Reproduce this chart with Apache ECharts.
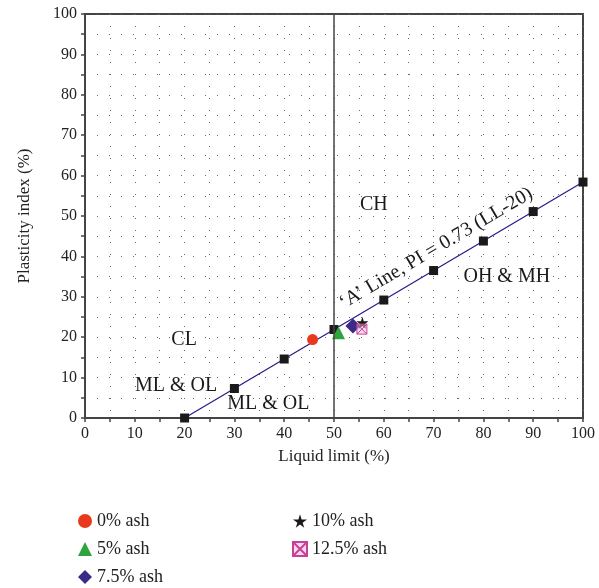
<!DOCTYPE html>
<html>
<head>
<meta charset="utf-8">
<script src="https://cdn.jsdelivr.net/npm/echarts@6/dist/echarts.min.js"></script>
<style>
  html, body { margin: 0; padding: 0; background: #fff; }
  #chart { width: 599px; height: 588px; }
</style>
</head>
<body>
<div id="chart"></div>
<script>
// A-line: PI = 0.73 (LL - 20)
const aLineLL = [20, 30, 40, 50, 60, 70, 80, 90, 100];
const aLinePI = [0, 7.3, 14.6, 21.9, 29.2, 36.5, 43.8, 51.1, 58.4];

// soil samples (LL, PI)
const sampleNames = ['0% ash', '5% ash', '7.5% ash', '10% ash', '12.5% ash'];
const sampleLL = [45.7, 50.9, 53.8, 55.7, 55.6];
const samplePI = [19.4, 21.1, 22.8, 23.6, 22.0];

// zone labels
const zoneText = ['CH', 'OH & MH', 'CL', 'ML & OL', 'ML & OL', '\u2018A\u2019 Line, PI = 0.73 (LL-20)'];
const zoneLL = [58, 84.7, 19.9, 18.3, 36.8, 70.5];
const zonePI = [52.7, 34.9, 19.3, 8.1, 3.6, 42.0];

const font = 'Liberation Serif';
const starPath = 'path://M50,0 L61,35 L98,35 L68,57 L79,91 L50,70 L21,91 L32,57 L2,35 L39,35 Z';
const boxPath = 'path://M0,0 L10,0 L10,10 L0,10 Z M0,0 L10,10 M10,0 L0,10';

const symbols = ['circle', 'triangle', 'diamond', starPath, boxPath];
const sizes = [11, 13, 15, 12, 10];
const colors = ['#e8391c', '#2ea43c', '#3b2a86', '#1a1a1a', 'rgba(240,180,215,0.5)'];

const chart = echarts.init(document.getElementById('chart'));

const dotted = { color: '#666', type: [1, 11], width: 1 };

const axisCommon = {
  type: 'value',
  min: 0,
  max: 100,
  interval: 10,
  axisLine: { show: true, lineStyle: { color: '#444', width: 2 } },
  axisTick: { show: true, inside: false, length: 4, lineStyle: { color: '#444', width: 1.5 } },
  minorTick: { show: true, splitNumber: 2, length: 4, lineStyle: { color: '#444', width: 1.5 } },
  splitLine: { show: true, lineStyle: dotted },
  minorSplitLine: { show: true, lineStyle: dotted },
  axisLabel: { color: '#222', fontFamily: font, fontSize: 16 },
  nameTextStyle: { color: '#222', fontFamily: font, fontSize: 17 },
  nameLocation: 'middle'
};

const series = [];

series.push({
  name: 'A-line',
  type: 'line',
  data: aLineLL.map((x, i) => [x, aLinePI[i]]),
  symbol: 'rect',
  symbolSize: 9,
  itemStyle: { color: '#1a1a1a' },
  lineStyle: { color: '#2a1e8c', width: 1.3 },
  z: 3,
  markLine: {
    silent: true,
    symbol: ['none', 'none'],
    label: { show: false },
    lineStyle: { color: '#444', type: 'solid', width: 1.5 },
    data: [{ xAxis: 50 }]
  }
});

sampleNames.forEach((name, i) => {
  const s = {
    name: name,
    type: 'scatter',
    data: [[sampleLL[i], samplePI[i]]],
    symbol: symbols[i],
    symbolSize: sizes[i],
    itemStyle: { color: colors[i], opacity: 1 },
    z: 4
  };
  if (i === 4) {
    s.itemStyle = { color: colors[i], borderColor: '#c8409a', borderWidth: 1, opacity: 1 };
  }
  series.push(s);
});

series.push({
  name: 'zones',
  type: 'scatter',
  symbol: 'circle',
  symbolSize: 1,
  itemStyle: { color: 'transparent', opacity: 1 },
  silent: true,
  z: 5,
  data: zoneText.map((t, i) => ({
    value: [zoneLL[i], zonePI[i]],
    label: {
      show: true,
      position: 'inside',
      formatter: t,
      rotate: i === 5 ? 30.6 : 0,
      color: '#1a1a1a',
      opacity: 1,
      fontFamily: font,
      fontSize: 20
    }
  }))
});

const legendStyle = {
  orient: 'vertical',
  itemGap: 10,
  itemWidth: 14,
  itemHeight: 14,
  height: 90,
  textStyle: { color: '#222', fontFamily: font, fontSize: 18 },
  selectedMode: false
};

chart.setOption({
  backgroundColor: '#fff',
  animation: false,
  grid: {
    left: 85, right: 16, top: 14, bottom: 170,
    show: true, borderColor: '#444', borderWidth: 2
  },
  xAxis: Object.assign({}, axisCommon, { name: 'Liquid limit (%)', nameGap: 30 }),
  yAxis: Object.assign({}, axisCommon, { name: 'Plasticity index (%)', nameGap: 52 }),
  legend: [
    Object.assign({}, legendStyle, { data: sampleNames.slice(0, 3), left: 73, top: 507 }),
    Object.assign({}, legendStyle, { data: sampleNames.slice(3), left: 287, top: 507 })
  ],
  series: series
});
</script>
</body>
</html>
